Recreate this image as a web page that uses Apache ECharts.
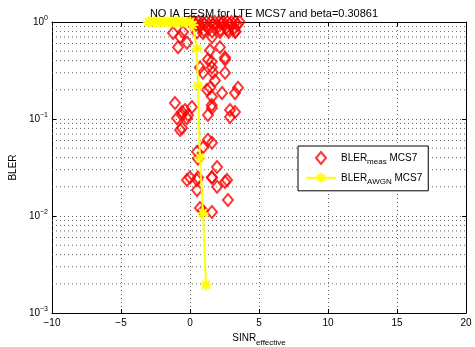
<!DOCTYPE html>
<html>
<head>
<meta charset="utf-8">
<script src="https://cdn.jsdelivr.net/npm/echarts@6/dist/echarts.min.js"></script>
<style>html,body{margin:0;padding:0;background:#fff}#c{width:475px;height:347px}</style>
</head>
<body>
<div id="c"></div>
<script>
var titleText = 'NO IA EESM for LTE MCS7 and beta=0.30861';
var xTicks = [-10, -5, 0, 5, 10, 15, 20];
var yTicks = [0.001, 0.01, 0.1, 1];
var yMinorGrid = [0.002,0.003,0.004,0.005,0.006,0.007,0.008,0.009,
                  0.02,0.03,0.04,0.05,0.06,0.07,0.08,0.09,
                  0.2,0.3,0.4,0.5,0.6,0.7,0.8,0.9];
var measSINR = [
  0.0,0.3,0.6,0.9,1.2,1.5,1.8,2.1,2.4,2.7,3.0,3.3,3.6,
  0.4,1.0,1.7,2.3,2.9,3.4,
  0.7,1.3,2.0,2.6,3.2,
  1.0,1.6,2.2,2.8,0.5,3.3,
  -1.23,-0.72,-0.51,-0.87,-0.22,0.94,1.59,2.17,2.75,3.26,
  1.45,2.17,2.54,1.30,0.94,1.59,1.81,1.23,1.59,2.32,3.48,
  0.72,1.57,2.54,1.67,2.54,1.45,3.26,
  -1.09,-0.58,0.14,1.59,2.90,-0.22,-0.94,-0.14,-0.58,1.30,2.90,3.26,1.57,-0.36,-0.60,
  -0.72,1.30,1.59,0.94,0.51,0.58,1.96,0.00,0.51,1.59,2.68,
  -0.22,0.58,1.59,2.54,1.96,0.51,2.75,0.72,1.59,0.94
];
var measBLER = [
  1,1,1,1,1,1,1,1,1,1,1,1,1,
  0.95,0.96,0.94,0.97,0.95,0.93,
  0.90,0.88,0.90,0.87,0.86,
  0.82,0.80,0.83,0.79,0.78,0.80,
  0.77,0.70,0.79,0.55,0.61,0.77,0.70,0.79,0.83,0.79,
  0.51,0.55,0.43,0.41,0.30,0.34,0.25,0.20,0.17,0.185,0.21,
  0.34,0.39,0.41,0.30,0.30,0.21,0.185,
  0.146,0.118,0.133,0.130,0.124,0.102,0.102,0.110,0.081,0.110,0.105,0.118,0.139,0.124,0.110,
  0.077,0.061,0.057,0.051,0.046,0.039,0.032,0.025,0.0235,0.025,0.0235,
  0.0235,0.025,0.025,0.0224,0.020,0.0185,0.0146,0.0121,0.011,0.0113
];
var awgnSINR = [-3.0,-2.8,-2.6,-2.4,-2.2,-2.0,-1.8,-1.6,-1.4,-1.2,-1.0,-0.8,-0.6,-0.4,-0.2,0.0,0.2,0.5,0.58,0.72,0.94,1.16];
var awgnBLER = [1,1,1,1,1,1,1,1,1,1,1,1,1,1,1,1,0.93,0.53,0.22,0.04,0.0107,0.00195];

var measData = measSINR.map(function(x,i){return [x, measBLER[i]];});
var awgnData = awgnSINR.map(function(x,i){return [x, awgnBLER[i]];});

var FONT = 'Liberation Sans';
var X_MIN = xTicks[0], X_MAX = xTicks[xTicks.length-1];
var starPath = 'path://M5,0L5,10M0,5L10,5M1.5,1.5L8.5,8.5M1.5,8.5L8.5,1.5';
var diamondPath = 'path://M5,0L10,6L5,12L0,6Z';
function minus(s){return String(s).replace('-', '\u2212');}
function supLabel(v){
  var e = Math.round(Math.log10(v));
  return '{b|10}{s|' + (e === 0 ? '0' : '\u2212' + (-e)) + '}';
}
var dotted = {color:'#666', width:1, type:[1,3]};
var gridLine = {show:true, lineStyle:dotted};

var minorSeries = yMinorGrid.map(function(v){
  return {type:'line', silent:true, symbol:'none', showSymbol:false, z:1,
    lineStyle:dotted, data:[[X_MIN, v],[X_MAX, v]], emphasis:{disabled:true}, tooltip:{show:false}};
});

var chart = echarts.init(document.getElementById('c'), null, {renderer:'canvas'});
chart.setOption({
  animation:false,
  backgroundColor:'#fff',
  textStyle:{fontFamily:FONT},
  title:{text:titleText, left:259, top:3, textAlign:'center',
    textStyle:{fontFamily:FONT, fontSize:11, fontWeight:'normal', color:'#000'}},
  grid:{left:52, right:9, top:22, bottom:34, containLabel:false, outerBoundsMode:'none'},
  legend:{
    orient:'vertical', left:298, top:146,
    backgroundColor:'#fff', borderColor:'#000', borderWidth:1, borderRadius:0,
    padding:[5,6,5,7], itemGap:6, itemWidth:30, itemHeight:12,
    symbolKeepAspect:true,
    textStyle:{fontFamily:FONT, fontSize:10, color:'#000',
      rich:{sub:{fontFamily:FONT, fontSize:8, color:'#000', padding:[8,0,0,0]}}},
    data:[{name:'meas', icon:diamondPath,
           itemStyle:{color:'rgba(255,255,255,0)', borderColor:'#ff0000', borderWidth:2}},
          {name:'awgn'}],
    formatter:function(n){return n==='meas' ? 'BLER{sub|meas} MCS7' : 'BLER{sub|AWGN} MCS7';}
  },
  xAxis:[{
    type:'value', min:X_MIN, max:X_MAX, interval:5, position:'bottom',
    axisLine:{onZero:false, lineStyle:{color:'#000', width:1}},
    axisTick:{inside:true, length:4, lineStyle:{color:'#000'}},
    axisLabel:{color:'#000', fontSize:10, fontFamily:FONT, margin:5, formatter:function(v){return minus(v);}},
    splitLine:gridLine,
    name:'SINR{sub|effective}', nameLocation:'middle', nameGap:15,
    nameTextStyle:{color:'#000', fontSize:10, fontFamily:FONT,
      rich:{sub:{fontFamily:FONT, fontSize:8, color:'#000', padding:[9,0,0,0]}}}
  },{
    type:'value', min:X_MIN, max:X_MAX, interval:5, position:'top',
    axisLine:{show:true, onZero:false, lineStyle:{color:'#000', width:1}},
    axisTick:{show:true, inside:true, length:4, lineStyle:{color:'#000'}},
    axisLabel:{show:false}, splitLine:{show:false}
  }],
  yAxis:[{
    type:'log', logBase:10, min:0.001, max:1, position:'left',
    axisLine:{show:true, onZero:false, lineStyle:{color:'#000', width:1}},
    axisTick:{show:true, inside:true, length:4, lineStyle:{color:'#000'}},
    axisLabel:{color:'#000', fontSize:10, fontFamily:FONT, margin:4,
      formatter:supLabel,
      rich:{b:{fontFamily:FONT, fontSize:10, color:'#000'},
            s:{fontFamily:FONT, fontSize:7, color:'#000', padding:[0,0,8,0]}}},
    splitLine:gridLine,
    name:'BLER', nameLocation:'middle', nameGap:33, nameRotate:90,
    nameTextStyle:{color:'#000', fontSize:10, fontFamily:FONT}
  },{
    type:'log', logBase:10, min:0.001, max:1, position:'right',
    axisLine:{show:true, onZero:false, lineStyle:{color:'#000', width:1}},
    axisTick:{show:true, inside:true, length:4, lineStyle:{color:'#000'}},
    axisLabel:{show:false}, splitLine:{show:false}
  }],
  series:minorSeries.concat([{
    name:'meas', type:'scatter', data:measData, clip:false,
    symbol:'diamond', symbolSize:[10,12],
    itemStyle:{color:'rgba(255,255,255,0)', borderColor:'#ff0000', borderWidth:2},
    z:2
  },{
    name:'awgn', type:'line', data:awgnData, clip:false,
    symbol:starPath, symbolSize:11, showSymbol:true,
    lineStyle:{color:'#ffff00', width:2},
    itemStyle:{color:'#ffff00', borderColor:'#ffff00', borderWidth:2},
    z:3
  }])
});
</script>
</body>
</html>
